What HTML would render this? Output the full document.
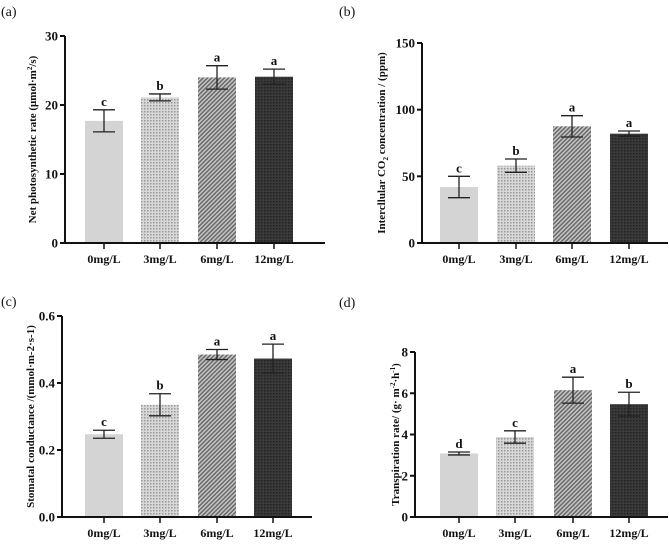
<!DOCTYPE html>
<html><head><meta charset="utf-8"><style>
body{margin:0;background:#fff}
svg text{font-family:"Liberation Serif",serif;font-weight:bold;fill:#111}
</style></head><body>
<svg id="s" width="669" height="541" viewBox="0 0 669 541" xmlns="http://www.w3.org/2000/svg">
<defs>
<pattern id="p3" width="3" height="3" patternUnits="userSpaceOnUse"><rect width="3" height="3" fill="#d8d8d8"/><rect width="1.5" height="1.5" fill="#999"/></pattern>
<pattern id="p6" width="3" height="3" patternUnits="userSpaceOnUse" patternTransform="rotate(45)"><rect width="3" height="3" fill="#c4c4c4"/><rect width="1.5" height="3" fill="#6a6a6a"/></pattern>
<pattern id="p12" width="3" height="3" patternUnits="userSpaceOnUse"><rect width="3" height="3" fill="#3a3a3a"/><rect width="1.5" height="1.5" fill="#222"/></pattern>
</defs>
</svg>
<script>
const categories=["0mg/L","3mg/L","6mg/L","12mg/L"];
const valuesA=[17.7,21.1,24.0,24.1];
const errorsA=[1.6,0.5,1.7,1.1];
const lettersA=["c","b","a","a"];
const ticksA=[0,10,20,30];
const valuesB=[42,58,87.5,82];
const errorsB=[8,5,8,2];
const lettersB=["c","b","a","a"];
const ticksB=[0,50,100,150];
const valuesC=[0.247,0.335,0.485,0.473];
const errorsC=[0.012,0.033,0.015,0.043];
const lettersC=["c","b","a","a"];
const ticksC=["0.0","0.2","0.4","0.6"];
const valuesD=[3.08,3.88,6.15,5.47];
const errorsD=[0.07,0.3,0.63,0.58];
const lettersD=["d","c","a","b"];
const ticksD=[0,2,4,6,8];
const fills=["#d4d4d4","url(#p3)","url(#p6)","url(#p12)"];
const svg=document.getElementById('s');
const NS="http://www.w3.org/2000/svg";
function mk(tag,attrs,parent){const e=document.createElementNS(NS,tag);for(const k in attrs)e.setAttribute(k,attrs[k]);(parent||svg).appendChild(e);return e;}
function panel(id,label,lx,ly,ax,top,bot,right,cx,vals,errs,letters,ticks,ytitle,titleX){
  const g=mk('g',{});
  
  
  const tv=ticks.map(Number);const max=tv[tv.length-1];
  const y=v=>bot-(v/max)*(bot-top);
  const pl=mk('text',{x:lx,y:ly,'font-size':14,style:'font-weight:normal'},g);pl.textContent=label;
  
  
  vals.forEach((v,i)=>{
    const r=mk('rect',{x:cx[i]-19,y:y(v),width:38,height:bot-y(v),fill:fills[i]},g);
    
    
    const hi=y(v+errs[i]),lo=y(v-errs[i]);
    const eb=mk('path',{d:`M${cx[i]} ${hi}V${lo}M${cx[i]-11} ${hi}H${cx[i]+11}M${cx[i]-11} ${lo}H${cx[i]+11}`,stroke:'#222','stroke-width':1.3,fill:'none'},g);
    
    
    const lt=mk('text',{x:cx[i],y:hi-4,'font-size':13,'text-anchor':'middle'},g);lt.textContent=letters[i];
    
    
    mk('line',{x1:cx[i],x2:cx[i],y1:bot,y2:bot+6,stroke:'#111','stroke-width':1.5},g);
    const xl=mk('text',{x:cx[i],y:bot+20,'font-size':12,'text-anchor':'middle'},g);xl.textContent=categories[i];
    
    
  });
  ticks.forEach(t=>{
    const yy=y(Number(t));
    mk('line',{x1:ax-5,x2:ax,y1:yy,y2:yy,stroke:'#111','stroke-width':2},g);
    const tl=mk('text',{x:ax-7,y:yy+4.5,'font-size':13,'text-anchor':'end'},g);tl.textContent=t;
    
    
  });
  const axes=mk('path',{d:`M${ax} ${top}V${bot}H${right}`,stroke:'#111','stroke-width':2,fill:'none'},g);
  
  
  const yt=mk('text',{x:0,y:0,'font-size':11,'text-anchor':'middle',transform:`translate(${titleX},${(top+bot)/2}) rotate(-90)`},g);
  yt.innerHTML=ytitle;
  
  
}
panel('a','(a)',1,16,65,36,243,325,[104,160,217,274],valuesA,errorsA,lettersA,ticksA,'Net photosynthetic rate (μmol·m<tspan dy="-4" font-size="7">2</tspan><tspan dy="4">/s)</tspan>',36);
panel('b','(b)',339,16,422,43,243,668,[459,516,572,629],valuesB,errorsB,lettersB,ticksB,'Intercllular CO<tspan dy="3" font-size="7">2</tspan><tspan dy="-3"> concentration / (ppm)</tspan>',385);
panel('c','(c)',1,306,62,316,517,312,[104,160,217,273],valuesC,errorsC,lettersC,ticksC,'Stomatal conductance /(mmol·m-2·s-1)',34);
panel('d','(d)',339,307,415,352,517,668,[459,515,573,629],valuesD,errorsD,lettersD,ticksD,'<tspan>Transpiration rate/ (g· m</tspan><tspan dy="-4" font-size="7">-2</tspan><tspan dy="4">·h</tspan><tspan dy="-4" font-size="7">-1</tspan><tspan dy="4">)</tspan>',399);
</script>
</body></html>
